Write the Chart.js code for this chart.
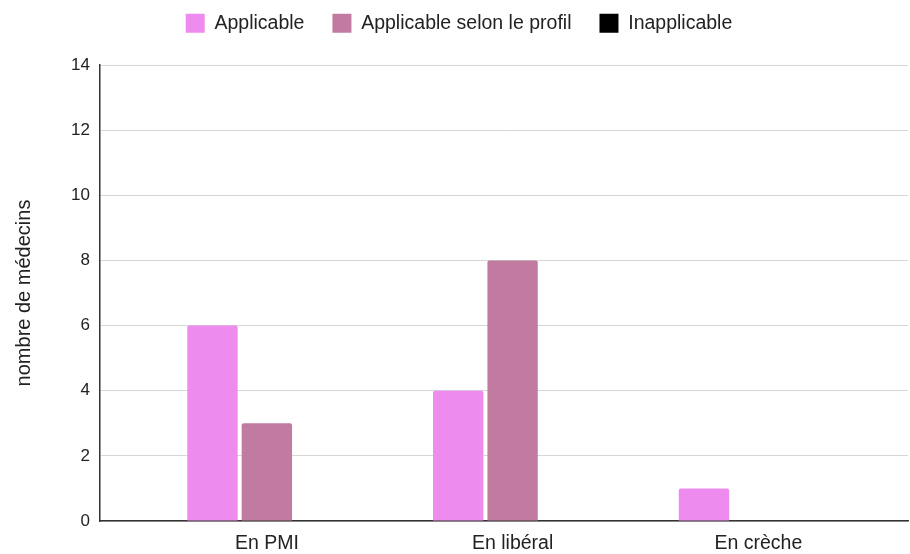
<!DOCTYPE html>
<html>
<head>
<meta charset="utf-8">
<script src="https://cdn.jsdelivr.net/npm/chart.js@4/dist/chart.umd.min.js"></script>
<style>
  html, body { margin: 0; padding: 0; background: #fff; }
  #wrap { width: 910px; height: 554px; }
</style>
</head>
<body>
<div id="wrap"><canvas id="chart"></canvas></div>
<script>
    // Data
    const categories = ['En PMI', 'En libéral', 'En crèche'];
    const applicable = [6, 4, 1];
    const selonProfil = [3, 8, 0];
    const inapplicable = [0, 0, 0];
    const yTicks = [0, 2, 4, 6, 8, 10, 12, 14];

    const colors = {
        applicable: '#ee8bee',
        profil: '#c27ba0',
        inapplicable: '#000000',
        grid: '#d6d6d6',
        axis: '#333333',
        text: '#222222'
    };

    const font = 'Arial, "Liberation Sans", sans-serif';

    // bars sit on a linear x axis so the plot can run wider than the groups
    function points(values) {
        return values.map((v, i) => ({ x: i, y: v }));
    }

    function dataset(label, values, color) {
        return {
            label: label,
            data: points(values),
            backgroundColor: color,
            borderWidth: 0,
            borderRadius: { topLeft: 2, topRight: 2 },
            borderSkipped: 'bottom',
            barPercentage: 0.926,
            categoryPercentage: 0.664
        };
    }

    new Chart(document.getElementById('chart'), {
        type: 'bar',
        data: {
            datasets: [
                dataset('Applicable', applicable, colors.applicable),
                dataset('Applicable selon le profil', selonProfil, colors.profil),
                dataset('Inapplicable', inapplicable, colors.inapplicable)
            ]
        },
        options: {
            responsive: true,
            maintainAspectRatio: false,
            animation: false,
            layout: { padding: { left: 10, right: 2, top: -14.5, bottom: 0 } },
            plugins: {
                legend: {
                    position: 'top',
                    labels: {
                        boxWidth: 19,
                        boxHeight: 19,
                        padding: 28,
                        color: colors.text,
                        font: { family: font, size: 19.5 }
                    }
                },
                tooltip: { enabled: false }
            },
            scales: {
                x: {
                    type: 'linear',
                    min: -0.679,
                    max: 2.609,
                    offset: false,
                    grid: { display: false, offset: false, drawTicks: false },
                    border: { display: true, color: colors.axis, width: 1.5 },
                    ticks: {
                        stepSize: 1,
                        includeBounds: false,
                        padding: 11,
                        color: colors.text,
                        font: { family: font, size: 19.5 },
                        callback: v => categories[v] || ''
                    },
                    afterFit: scale => { scale.height = 33; }
                },
                // empty band between the legend and the plot
                gap: {
                    type: 'linear',
                    position: 'top',
                    grid: { display: false, drawTicks: false },
                    border: { display: false },
                    ticks: { display: false },
                    afterFit: scale => { scale.height = 22; }
                },
                y: {
                    min: 0,
                    max: 14,
                    afterBuildTicks: scale => {
                        scale.ticks = yTicks.map(v => ({ value: v }));
                    },
                    grid: { color: colors.grid, drawTicks: false },
                    border: { display: true, color: colors.axis, width: 1.5 },
                    ticks: {
                        padding: 10,
                        color: colors.text,
                        font: { family: font, size: 17 }
                    },
                    title: {
                        display: true,
                        text: 'nombre de médecins',
                        color: colors.text,
                        padding: { top: 2.5, bottom: 0 },
                        font: { family: font, size: 20 }
                    },
                    afterFit: scale => { scale.width = 90; }
                }
            }
        }
    });
</script>
</body>
</html>
